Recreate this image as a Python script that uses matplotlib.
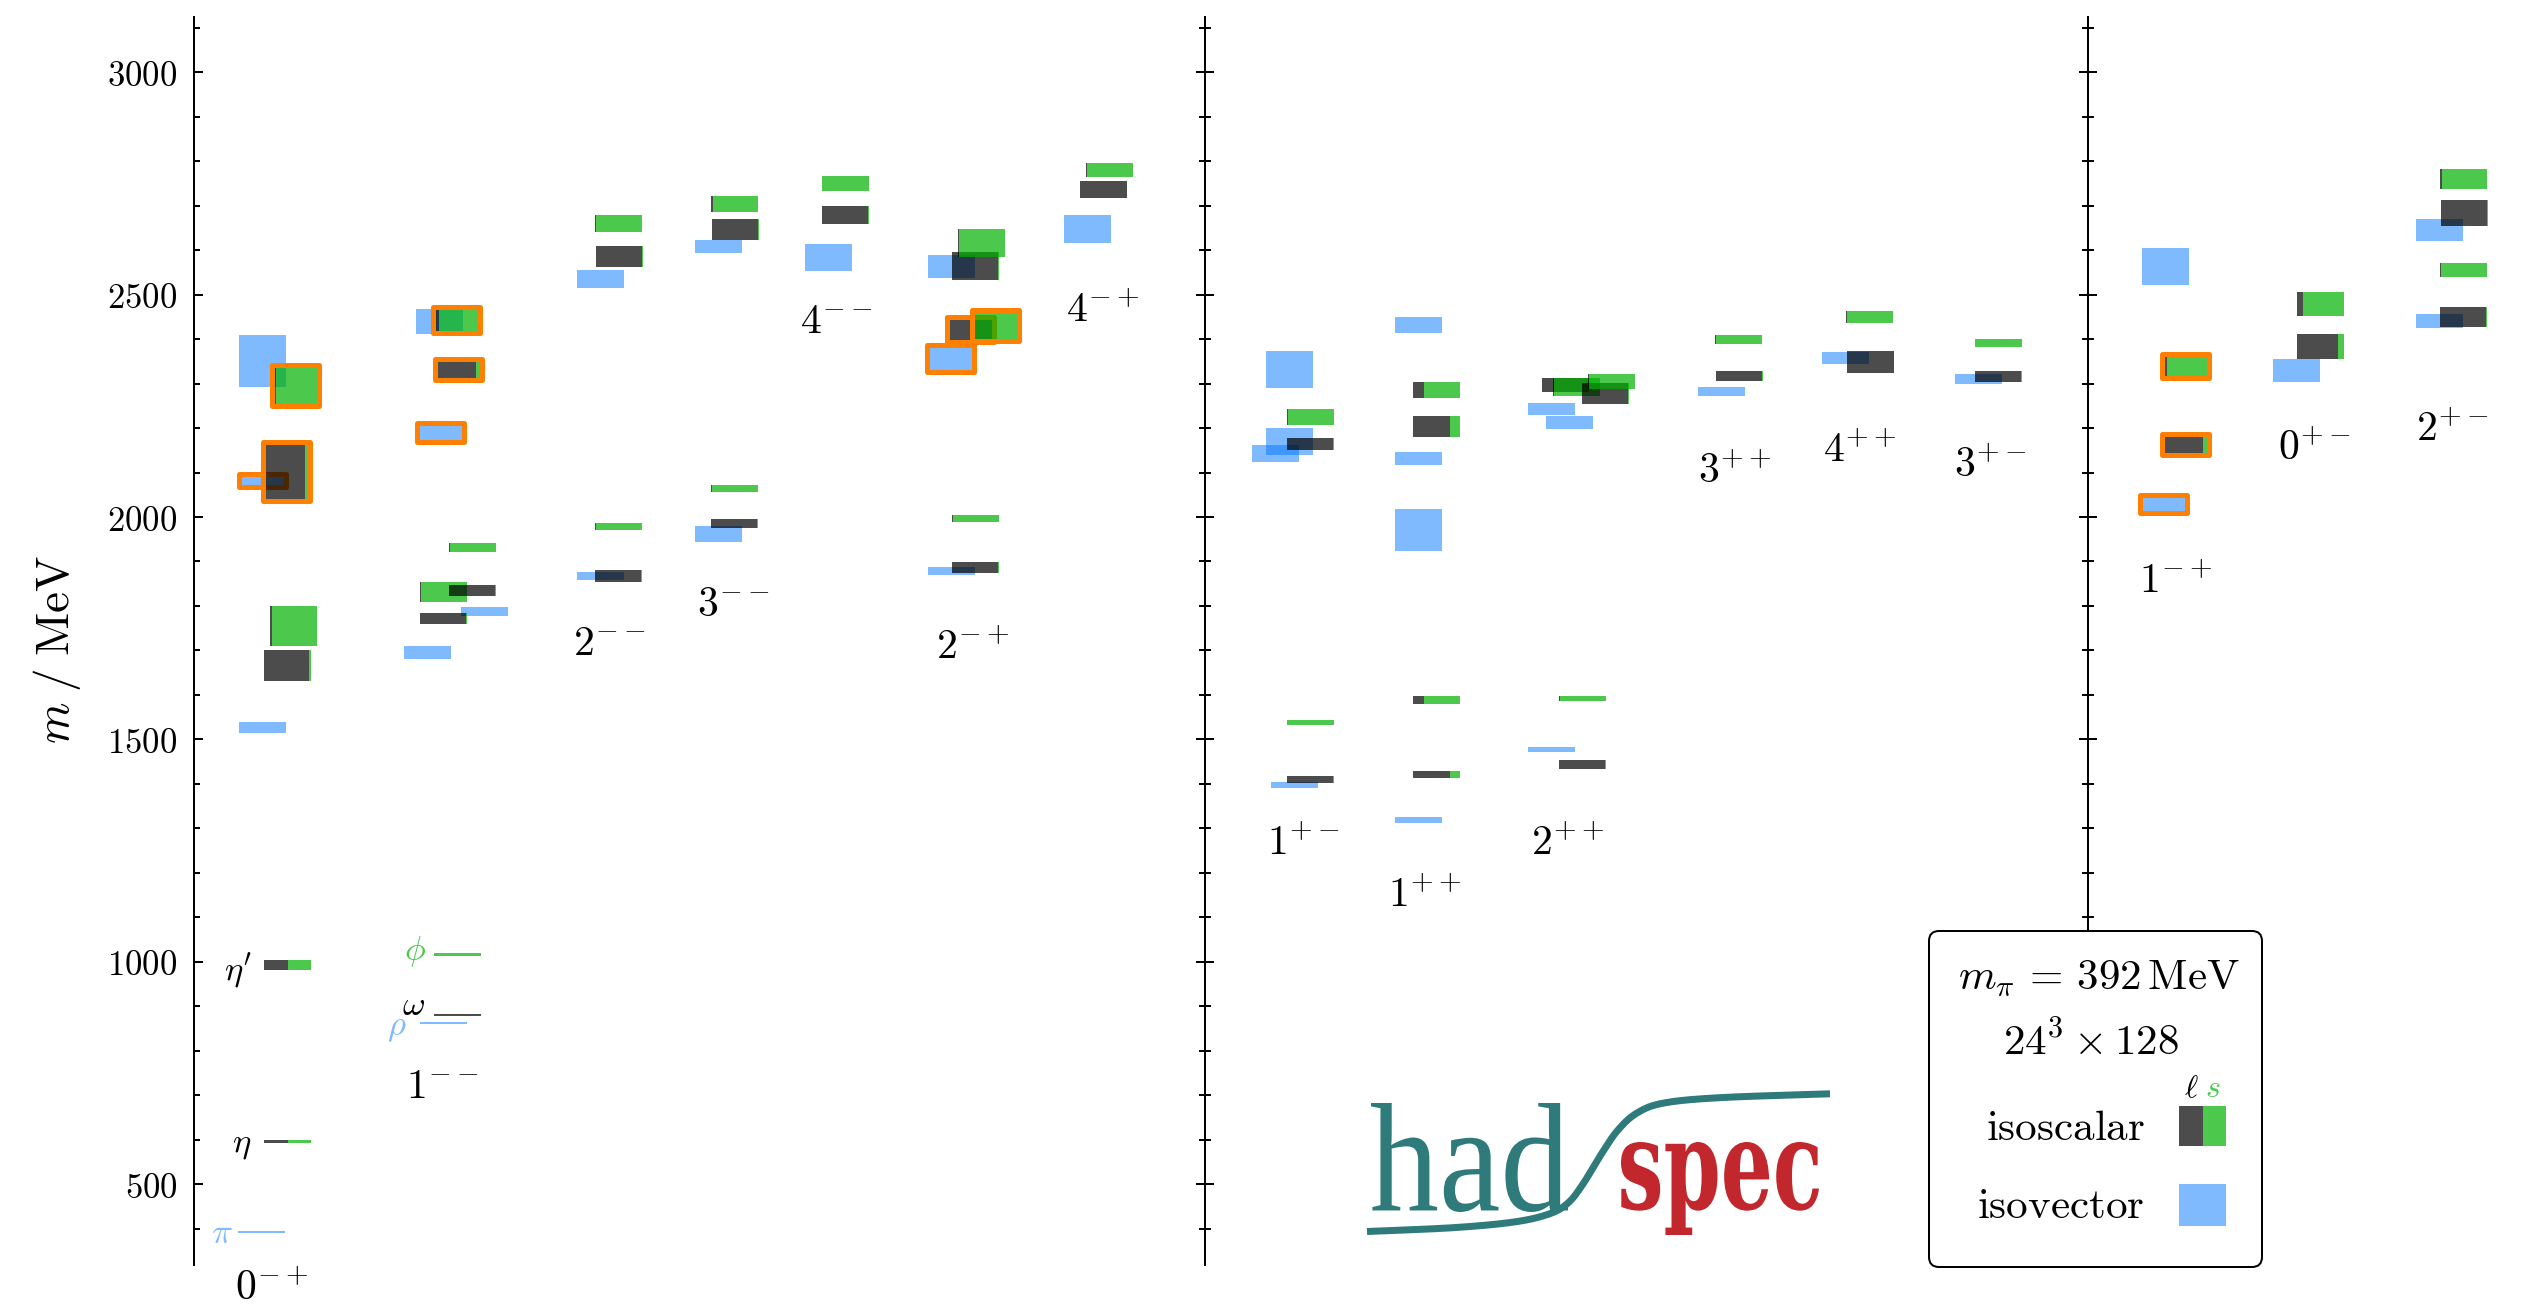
import numpy as np
import matplotlib
matplotlib.use("Agg")
import matplotlib.pyplot as plt
from matplotlib.patches import Rectangle, FancyBboxPatch, PathPatch
from matplotlib.textpath import TextPath
from matplotlib.font_manager import FontProperties
from matplotlib.transforms import Affine2D

plt.rcParams["mathtext.fontset"] = "cm"
plt.rcParams["font.family"] = ["DejaVu Serif"]

# ---------------------------------------------------------------- data
channels = [r"0^{-+}", r"1^{--}", r"2^{--}", r"3^{--}", r"4^{--}", r"2^{-+}",
            r"4^{-+}", r"1^{+-}", r"1^{++}", r"2^{++}", r"3^{++}", r"4^{++}",
            r"3^{+-}", r"1^{-+}", r"0^{+-}", r"2^{+-}"]

# isovector states: channel index, mass (MeV), half-height of box (MeV), hybrid flag
iv_chan = [0, 0, 0, 0, 1, 1, 1, 1, 1, 2, 2, 3, 3, 4, 5, 5, 5, 6, 7, 7, 7, 7,
           8, 8, 8, 8, 9, 9, 9, 10, 11, 12, 13, 13, 14, 15, 15]
iv_mass = [393, 1527, 2082, 2351, 862, 1696, 1788, 2190, 2440, 1867, 2535,
           1962, 2608, 2584, 1878, 2356, 2563, 2648, 1398, 2143, 2170, 2332,
           1319, 1971, 2131, 2432, 1477, 2213, 2243, 2282, 2358, 2311, 2030,
           2564, 2329, 2441, 2646]
iv_err = [2, 12.5, 15.5, 58, 2.5, 15, 10, 22, 28, 8.5, 21, 18, 14.5, 30.5,
          9.5, 30, 25.5, 31.5, 6.5, 18.5, 30, 41.5, 6.5, 47.5, 15, 17.5, 5.5,
          14.5, 13.5, 11, 13.5, 11, 20, 41.5, 26, 16, 24.5]
iv_hybrid = [0, 0, 1, 0, 0, 0, 0, 1, 0, 0, 0, 0, 0, 0, 0, 1, 0, 0, 0, 0, 0, 0,
             0, 0, 0, 0, 0, 0, 0, 0, 0, 0, 1, 0, 0, 0, 0]

# isoscalar states: channel index, mass, half-height, light-quark fraction, hybrid flag
is_chan = [0, 0, 0, 0, 0, 0,
           1, 1, 1, 1, 1, 1, 1, 1,
           2, 2, 2, 2,
           3, 3, 3, 3,
           4, 4,
           5, 5, 5, 5, 5, 5,
           6, 6,
           7, 7, 7, 7,
           8, 8, 8, 8,
           9, 9, 9, 9, 9, 9,
           10, 10,
           11, 11,
           12, 12,
           13, 13,
           14, 14,
           15, 15, 15, 15]
is_mass = [596, 992, 1666, 1754, 2103, 2296,
           880, 1016, 1772, 1831, 1835, 1931, 2331, 2443,
           1867, 1979, 2586, 2660,
           1985, 2064, 2647, 2704,
           2679, 2750,
           1886, 1997, 2421, 2431, 2564, 2616,
           2737, 2780,
           1410, 1538, 2164, 2225,
           1421, 1588, 2203, 2286,
           1443, 1592, 2297, 2292, 2278, 2305,
           2317, 2399,
           2349, 2450,
           2316, 2391,
           2163, 2340,
           2383, 2479,
           2450, 2555, 2684, 2760]
is_err = [3, 11, 34.5, 45, 66.5, 46,
          3, 3, 12, 23, 12.5, 9.5, 23.5, 30,
          14, 7.5, 23.5, 19,
          10, 8, 23.5, 18,
          20, 17,
          13, 7.5, 28, 35.5, 31, 31.5,
          19.5, 16.5,
          7.5, 5, 14, 17.5,
          8.5, 9.5, 24, 17.5,
          10, 5.5, 15.5, 21, 23.5, 17,
          11, 10,
          24.5, 13.5,
          12.5, 8.5,
          24.5, 26.5,
          28, 26,
          22.5, 16, 29, 23]
is_light = [0.50, 0.51, 0.95, 0.04, 0.90, 0.09,
            0.99, 0.01, 0.97, 0.02, 0.97, 0.03, 0.87, 0.12,
            0.97, 0.02, 0.98, 0.02,
            0.98, 0.02, 0.98, 0.04,
            0.98, 0.01,
            0.98, 0.02, 0.95, 0.06, 0.98, 0.02,
            0.99, 0.02,
            0.98, 0.01, 0.98, 0.02,
            0.78, 0.23, 0.78, 0.23,
            0.97, 0.02, 0.99, 0.03, 0.97, 0.03,
            0.98, 0.02,
            0.99, 0.02,
            0.98, 0.01,
            0.87, 0.10,
            0.87, 0.13,
            0.97, 0.02, 0.97, 0.04]
is_hybrid = [0, 0, 0, 0, 1, 1,
             0, 0, 0, 0, 0, 0, 1, 1,
             0, 0, 0, 0,
             0, 0, 0, 0,
             0, 0,
             0, 0, 1, 1, 0, 0,
             0, 0,
             0, 0, 0, 0,
             0, 0, 0, 0,
             0, 0, 0, 0, 0, 0,
             0, 0,
             0, 0,
             0, 0,
             1, 1,
             0, 0,
             0, 0, 0, 0]

# named ground states
state_names = [r"\pi", r"\eta", r"\eta'", r"\rho", r"\omega", r"\phi"]

# ---------------------------------------------------------------- layout
W, H = 2530, 1306
M_LO, M_HI = 225.8, 3162.6           # mass range spanned by the figure height
AX_LO, AX_HI = 318, 3124             # extent of the drawn axis lines
BOX_W = 47

chan_x = [271.5, 442.5, 609, 733.5, 836, 973, 1103, 1303, 1425, 1568, 1735,
          1859.5, 1990.5, 2176, 2314.5, 2452]
chan_label_m = [240, 694.6, 1689.7, 1776.3, 2413.8, 1681.6, 2438.5, 1240,
                1123, 1240, 2076.5, 2123.7, 2090.6, 1829, 2128.9, 2171.8]
iv_left = [238, 239, 239, 239, 420, 404, 461, 417, 416, 577, 577, 695, 695,
           805, 928, 927, 928, 1064, 1271, 1252, 1266, 1266, 1395, 1395, 1395,
           1395, 1528, 1546, 1528, 1698, 1822, 1955, 2140, 2142, 2273, 2416,
           2416]
is_left = [264, 264, 264, 270, 263, 272,
           434, 434, 420, 420, 449, 449, 435, 433,
           595, 595, 596, 595,
           711, 711, 712, 711,
           822, 822,
           952, 952, 947, 972, 952, 958,
           1080, 1086,
           1287, 1287, 1287, 1287,
           1413, 1413, 1413, 1413,
           1559, 1559, 1542, 1553, 1582, 1588,
           1716, 1715,
           1847, 1846,
           1975, 1975,
           2162, 2162,
           2297, 2297,
           2440, 2440, 2441, 2440]
separator_x = [1205, 2088]
name_x = [222, 242, 238, 397, 414, 415]
name_m = [390, 590, 981, 854, 903, 1022]

BLUE = (0.0, 0.467, 1.0, 0.5)
DARK = (0.0, 0.0, 0.0, 0.7)
GREEN = (0.0, 0.698, 0.0, 0.7)
ORANGE = "#FF8000"
BLUE_TXT = "#80BBFF"
GREEN_TXT = "#4DC94D"
name_colors = [BLUE_TXT, "black", "black", BLUE_TXT, "black", GREEN_TXT]

PX = 72.0 / 100.0   # points per pixel at dpi=100

fig = plt.figure(figsize=(W / 100, H / 100), dpi=100)

# ---------------------------------------------------------------- main axes
ax = fig.add_axes([0, 0, 1, 1])
ax.set_xlim(0, W)
ax.set_ylim(M_LO, M_HI)
for side in ("top", "right", "bottom"):
    ax.spines[side].set_visible(False)
ax.spines["left"].set_position(("data", 194))
ax.spines["left"].set_bounds(AX_LO, AX_HI)
ax.spines["left"].set_linewidth(2 * PX)
ax.set_xticks([])
major = list(range(500, 3001, 500))
ax.set_yticks(major, labels=[f"${v}$" for v in major])
ax.set_yticks(list(range(400, 3101, 100)), minor=True)
ax.tick_params(axis="y", which="major", direction="in", length=9 * PX,
               width=2 * PX, pad=12, labelsize=25)
ax.tick_params(axis="y", which="minor", direction="in", length=6 * PX,
               width=2 * PX)


def outline(x, m, e):
    ax.add_patch(Rectangle((x, m - e), BOX_W, 2 * e, fill=False,
                           edgecolor=ORANGE, linewidth=5 * PX,
                           joinstyle="round"))


# isovector boxes
for c, m, e, h, x in zip(iv_chan, iv_mass, iv_err, iv_hybrid, iv_left):
    ax.add_patch(Rectangle((x, m - e), BOX_W, 2 * e, facecolor=BLUE,
                           edgecolor="none", linewidth=0))
    if h:
        outline(x, m, e)

# isoscalar boxes, split into light (dark grey) and strange (green) parts
for c, m, e, f, h, x in zip(is_chan, is_mass, is_err, is_light, is_hybrid,
                            is_left):
    wl = BOX_W * f
    ax.add_patch(Rectangle((x, m - e), wl, 2 * e, facecolor=DARK,
                           edgecolor="none", linewidth=0))
    ax.add_patch(Rectangle((x + wl, m - e), BOX_W - wl, 2 * e,
                           facecolor=GREEN, edgecolor="none", linewidth=0))
    if h:
        outline(x, m, e)

# channel labels
for lab, x, m in zip(channels, chan_x, chan_label_m):
    ax.text(x, m, f"${lab}$", ha="center", va="baseline", fontsize=30)

# names of the lightest states
for nm, col, x, m in zip(state_names, name_colors, name_x, name_m):
    ax.text(x, m, f"${nm}$", ha="center", va="center", fontsize=25,
            color=col)

# vertical separators between groups of channels
f_lo = (AX_LO - M_LO) / (M_HI - M_LO)
f_hi = (AX_HI - M_LO) / (M_HI - M_LO)
for sx in separator_x:
    sa = fig.add_axes([sx / W, f_lo, 1e-5, f_hi - f_lo])
    sa.set_ylim(AX_LO, AX_HI)
    sa.patch.set_visible(False)
    for side in ("top", "right", "bottom"):
        sa.spines[side].set_visible(False)
    sa.spines["left"].set_linewidth(2 * PX)
    sa.set_xticks([])
    sa.set_yticks(major, labels=[])
    sa.set_yticks(list(range(400, 3101, 100)), minor=True)
    sa.tick_params(axis="y", which="major", direction="inout",
                   length=18 * PX, width=2 * PX)
    sa.tick_params(axis="y", which="minor", direction="inout",
                   length=12 * PX, width=2 * PX)

# ---------------------------------------------------------------- overlay (pixel units)
ov = fig.add_axes([0, 0, 1, 1], zorder=5)
ov.set_xlim(0, W)
ov.set_ylim(H, 0)
ov.axis("off")
ov.patch.set_visible(False)

ov.text(57, 650, r"$m\;/\;\mathrm{MeV}$", rotation=90, ha="center",
        va="center", fontsize=34)

# legend box
r = 10
ov.add_patch(FancyBboxPatch((1929 + r, 931 + r), 333 - 2 * r, 336 - 2 * r,
                            boxstyle=f"round,pad={r}", facecolor="white",
                            edgecolor="black", linewidth=2 * PX))
ov.text(2099, 989, r"$m_\pi \,=\, 392\,\mathrm{MeV}$", ha="center",
        va="baseline", fontsize=31)
ov.text(2091, 1055, r"$24^3 \times 128$", ha="center", va="baseline",
        fontsize=31)
ov.text(2065.5, 1140, r"$\mathrm{isoscalar}$", ha="center", va="baseline",
        fontsize=31)
ov.text(2061, 1218, r"$\mathrm{isovector}$", ha="center", va="baseline",
        fontsize=31)
ov.text(2191.7, 1097, r"$\ell$", ha="center", va="baseline", fontsize=23)
ov.text(2212.7, 1097, r"$s$", ha="center", va="baseline", fontsize=23,
        color=GREEN_TXT)
ov.add_patch(Rectangle((2179, 1106), 24.3, 40, facecolor=DARK,
                       edgecolor="none"))
ov.add_patch(Rectangle((2203.3, 1106), 22.7, 40, facecolor=GREEN,
                       edgecolor="none"))
ov.add_patch(Rectangle((2179, 1184), 47, 42, facecolor=BLUE,
                       edgecolor="none"))

# ---------------------------------------------------------------- logo
TEAL = "#2F7A7A"
RED = "#C1272D"


def fitted_text(s, prop, x0, x1, top, bottom, color):
    tp = TextPath((0, 0), s, size=100, prop=prop)
    bb = tp.get_extents()
    sx = (x1 - x0) / bb.width
    sy = (bottom - top) / bb.height
    tr = (Affine2D().translate(-bb.x0, -bb.y0).scale(sx, -sy)
          .translate(x0, bottom))
    ov.add_patch(PathPatch(tr.transform_path(tp), facecolor=color,
                           edgecolor="none"))


fitted_text("had", FontProperties(family="Liberation Serif"),
            1371, 1568, 1103, 1212, TEAL)
fitted_text("spec", FontProperties(family="DejaVu Serif", weight="bold"),
            1621, 1819, 1142, 1235, RED)


def catmull_rom(p, n=24):
    p = np.asarray(p, float)
    ext = np.vstack([p[0], p, p[-1]])
    out = []
    t = np.linspace(0, 1, n, endpoint=False)[:, None]
    for i in range(1, len(ext) - 2):
        p0, p1, p2, p3 = ext[i - 1], ext[i], ext[i + 1], ext[i + 2]
        out.append(0.5 * ((2 * p1) + (-p0 + p2) * t
                          + (2 * p0 - 5 * p1 + 4 * p2 - p3) * t ** 2
                          + (-p0 + 3 * p1 - 3 * p2 + p3) * t ** 3))
    out.append(p[-1][None, :])
    return np.vstack(out)


swoosh = [(1367, 1231.5), (1453, 1227.7), (1514, 1222), (1549, 1214),
          (1568, 1203), (1583, 1184), (1602, 1153), (1618, 1130),
          (1637, 1113), (1664, 1103), (1721, 1097.6), (1830, 1093.8)]
curve = catmull_rom(swoosh)
ov.plot(curve[:, 0], curve[:, 1], color=TEAL, linewidth=7 * PX,
        solid_capstyle="butt")

fig.savefig("out.png", dpi=100)
